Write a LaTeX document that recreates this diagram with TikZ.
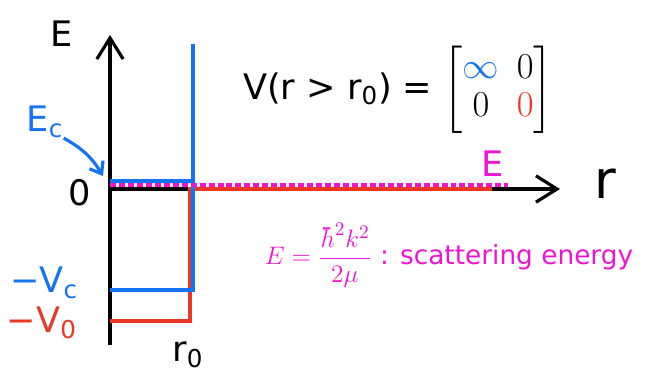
\documentclass[tikz,border=0pt]{standalone}
\usepackage{fontspec}
\setmainfont{DejaVu Sans}
\usepackage{xcolor}
\usepackage{amsmath}
\definecolor{wellblue}{RGB}{20, 115, 245}
\definecolor{wellred}{RGB}{235, 55, 35}
\definecolor{scatmag}{RGB}{240, 20, 210}
\usetikzlibrary{arrows.meta, positioning}
\tikzstyle{axis} = [draw=black, line width=1.8pt]
\tikzstyle{level} = [line width=1.8pt]
\tikzstyle{lbl} = [inner sep=0pt, font=\fontsize{20}{24}\selectfont]
\tikzstyle{hand} = [-{Straight Barb[length=12pt, width=15pt]}]

\begin{document}
\begin{tikzpicture}[x=0.02cm, y=-0.02cm]
\useasboundingbox (0, 0) rectangle (645, 371);
% axes
\coordinate (o) at (110, 189);
\coordinate (ytop) at (110, 35);
\coordinate (ybot) at (110, 345);
\coordinate (xend) at (560, 189);
\draw[axis, hand] (ybot) -- (ytop);
\draw[axis, hand] (o) -- (xend);
% red well
\coordinate (vo) at (110, 321);
\coordinate (vocorner) at (190, 321);
\coordinate (redtop) at (190, 189);
\coordinate (redend) at (492, 189);
\draw[level, wellred] (vo) -- (vocorner) -- (redtop) -- (redend);
% blue well
\coordinate (ec) at (110, 181);
\coordinate (ecwall) at (193, 181);
\coordinate (vc) at (110, 290);
\coordinate (vcwall) at (193, 290);
\coordinate (bluetop) at (193, 44);
\draw[level, wellblue] (ec) -- (ecwall);
\draw[level, wellblue] (vc) -- (vcwall) -- (bluetop);
% scattering energy
\coordinate (es) at (110, 185);
\coordinate (ee) at (508, 185);
\draw[level, scatmag, dash pattern=on 3.4pt off 1.7pt] (es) -- (ee);
% labels
\node[lbl] (elab) at (62, 34) {E};
\node[lbl, font=\fontsize{30}{34}\selectfont] (rlab) at (605, 184) {r};
\node[lbl] (zerolab) at (80, 193) {0};
\node[lbl, wellblue] (eclab) at (45, 122) {E\textsubscript{c}};
\node[lbl, wellblue] (vclab) at (44, 283) {−V\textsubscript{c}};
\node[lbl, wellred] (volab) at (42, 323) {−V\textsubscript{0}};
\node[lbl] (rolab) at (188, 355) {r\textsubscript{0}};
\node[lbl, scatmag] (elabm) at (493, 164) {E};
\coordinate (ectip) at (103, 176);
\draw[level, wellblue, -{Straight Barb[length=6pt, width=9pt]}] (eclab.south east) to[bend left=15] (ectip);
\node[lbl] (vmat) at (398, 90)
  {V(r > r\textsubscript{0}) = $\renewcommand{\arraystretch}{0.9}\begin{bmatrix}\textcolor{wellblue}{\infty} & 0\\ 0 & \textcolor{wellred}{0}\end{bmatrix}$};
\node[lbl, scatmag, font=\fontsize{15}{18}\selectfont] (scatt) at (449, 255)
  {$E=\dfrac{\hbar^2k^2}{2\mu}$ : scattering energy};
\end{tikzpicture}
\end{document}
